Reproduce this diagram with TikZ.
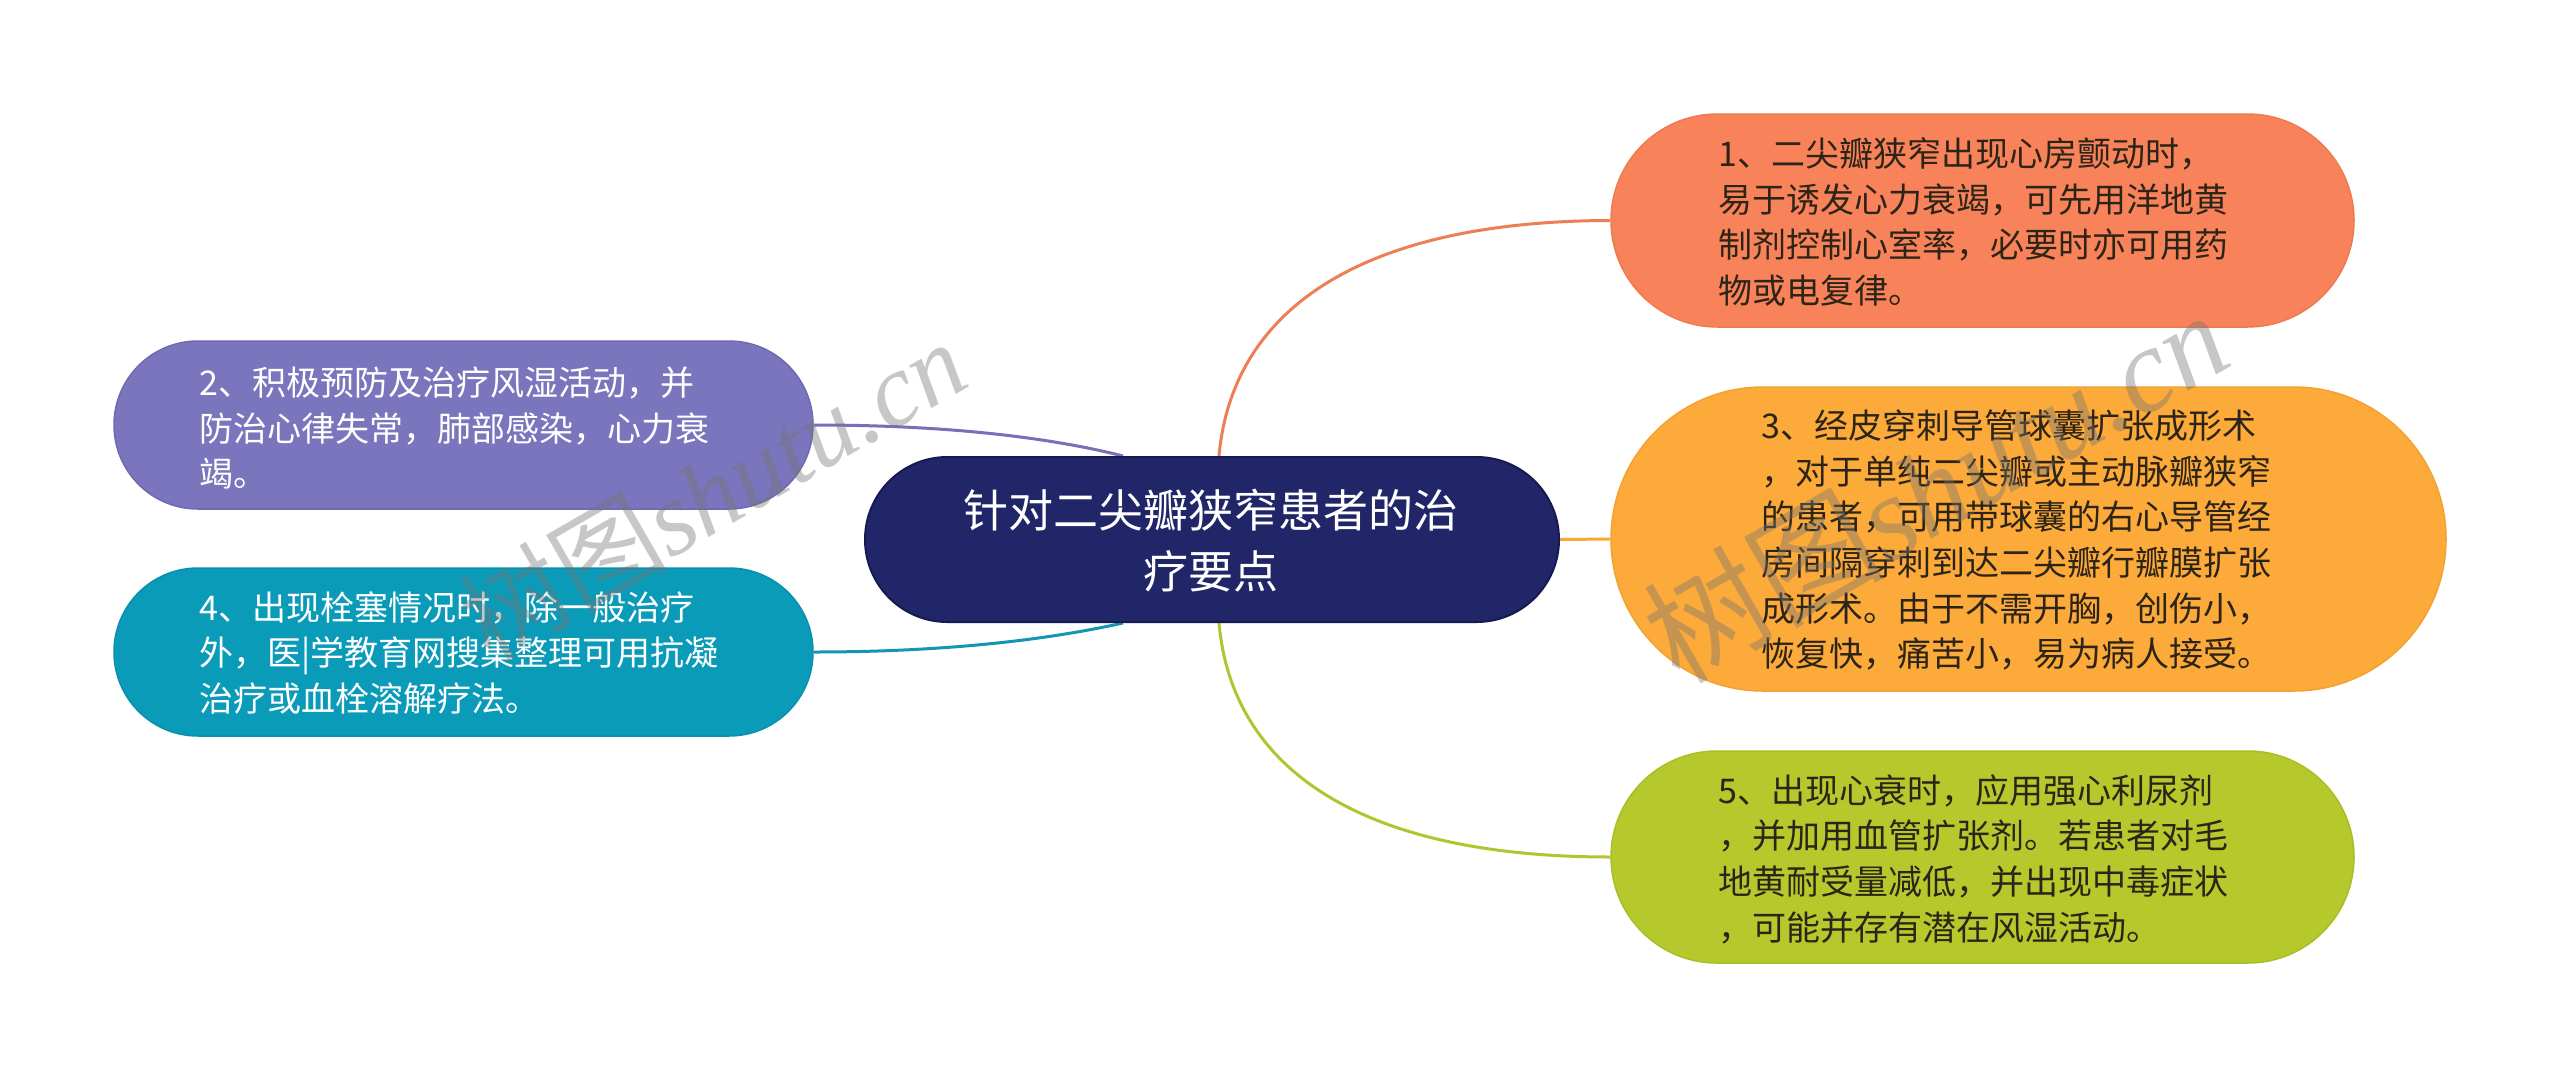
\documentclass[tikz,border=0pt]{standalone}
\usepackage{fontspec}
\setmainfont{Noto Sans CJK SC}
\newfontfamily\wmfont{Liberation Serif}
\usetikzlibrary{shapes.misc,calc}
\pgfdeclarelayer{back}
\pgfdeclarelayer{bg}
\pgfsetlayers{back,bg,main}
\definecolor{navyF}{HTML}{212668}
\definecolor{navyD}{HTML}{161A50}
\definecolor{oraF}{HTML}{F8835A}
\definecolor{oraD}{HTML}{EE7A50}
\definecolor{oraL}{HTML}{EE7E55}
\definecolor{yelF}{HTML}{FCAA3A}
\definecolor{yelD}{HTML}{F3A131}
\definecolor{yelL}{HTML}{F9A834}
\definecolor{grnF}{HTML}{B5C82C}
\definecolor{grnD}{HTML}{AABD25}
\definecolor{grnL}{HTML}{B2C52E}
\definecolor{purF}{HTML}{7A75BC}
\definecolor{purD}{HTML}{6E69B0}
\definecolor{purL}{HTML}{7570B8}
\definecolor{tealF}{HTML}{0A9BB9}
\definecolor{tealD}{HTML}{0890AD}
\definecolor{tealL}{HTML}{1495B5}
\definecolor{darktext}{HTML}{2D2418}
\begin{document}
\begin{tikzpicture}[x=1pt,y=1pt,
  pill/.style={shape=rounded rectangle, inner sep=0pt, line width=1.5pt},
  leaftext/.style={anchor=west, inner sep=0pt, align=left,
    font=\fontsize{34pt}{45.7pt}\selectfont},
  conn/.style={line width=3pt},
  wm/.style={inner sep=0pt, text=black!55, text opacity=0.4}]
\useasboundingbox (0,0) rectangle (2560,-1079);
\begin{pgfonlayer}{back}
\fill[white] (0,0) rectangle (2560,-1079);
\end{pgfonlayer}

% central
\node[pill, fill=navyF, draw=navyD, line width=2pt, minimum width=694, minimum height=165] (c) at (1212,-539.5) {};
\node[inner sep=0pt, text=white, align=center, font=\fontsize{45pt}{61pt}\selectfont] (ct) at (1211,-541) {针对二尖瓣狭窄患者的治\\疗要点};

% leaves
\node[pill, fill=oraF, draw=oraD, minimum width=743, minimum height=213] (n1) at (1982.5,-220.5) {};
\node[pill, fill=yelF, draw=yelD, minimum width=835, minimum height=304] (n3) at (2028.5,-539) {};
\node[pill, fill=grnF, draw=grnD, minimum width=743, minimum height=212] (n5) at (1982.5,-857) {};
\node[pill, fill=purF, draw=purD, minimum width=699, minimum height=168] (n2) at (463.5,-425) {};
\node[pill, fill=tealF, draw=tealD, minimum width=699, minimum height=168] (n4) at (463.5,-652) {};

\node[leaftext, text=darktext] (t1) at (1718,-222) {1、二尖瓣狭窄出现心房颤动时，\\易于诱发心力衰竭，可先用洋地黄\\制剂控制心室率，必要时亦可用药\\物或电复律。};
\node[leaftext, text=darktext] (t3) at (1761,-540) {3、经皮穿刺导管球囊扩张成形术\\，对于单纯二尖瓣或主动脉瓣狭窄\\的患者，可用带球囊的右心导管经\\房间隔穿刺到达二尖瓣行瓣膜扩张\\成形术。由于不需开胸，创伤小，\\恢复快，痛苦小，易为病人接受。};
\node[leaftext, text=darktext] (t5) at (1718,-859) {5、出现心衰时，应用强心利尿剂\\，并加用血管扩张剂。若患者对毛\\地黄耐受量减低，并出现中毒症状\\，可能并存有潜在风湿活动。};
\node[leaftext, text=white] (t2) at (199,-428) {2、积极预防及治疗风湿活动，并\\防治心律失常，肺部感染，心力衰\\竭。};
\node[leaftext, text=white] (t4) at (199,-653) {4、出现栓塞情况时，除一般治疗\\外，医|学教育网搜集整理可用抗凝\\治疗或血栓溶解疗法。};

% connectors
\begin{pgfonlayer}{bg}
\coordinate (cTopR) at ($(c.north)+(7,0)$);
\coordinate (cBotR) at ($(c.south)+(7,0)$);
\coordinate (cTopL) at ($(c.north)+(-89,0)$);
\coordinate (cBotL) at ($(c.south)+(-89,0)$);
\draw[conn, oraL] (cTopR) .. controls (1232,-310) and (1360,-221) .. (n1.west);
\draw[conn, grnL] (cBotR) .. controls (1232,-769) and (1360,-857) .. (n5.west);
\draw[conn, yelL] (c.east) -- (n3.west);
\draw[conn, purL] (n2.east) .. controls (960,-425) and (1060,-440) .. (cTopL);
\draw[conn, tealL] (n4.east) .. controls (960,-652) and (1060,-637) .. (cBotL);
\end{pgfonlayer}

% watermarks
\node[wm, rotate=30, font=\fontsize{104pt}{104pt}\selectfont] (w1) at (712,-490) {树图{\wmfont\itshape shutu.cn}};
\node[wm, rotate=30, font=\fontsize{120pt}{120pt}\selectfont] (w2) at (1935,-485) {树图{\wmfont\itshape shutu.cn}};
\end{tikzpicture}
\end{document}
